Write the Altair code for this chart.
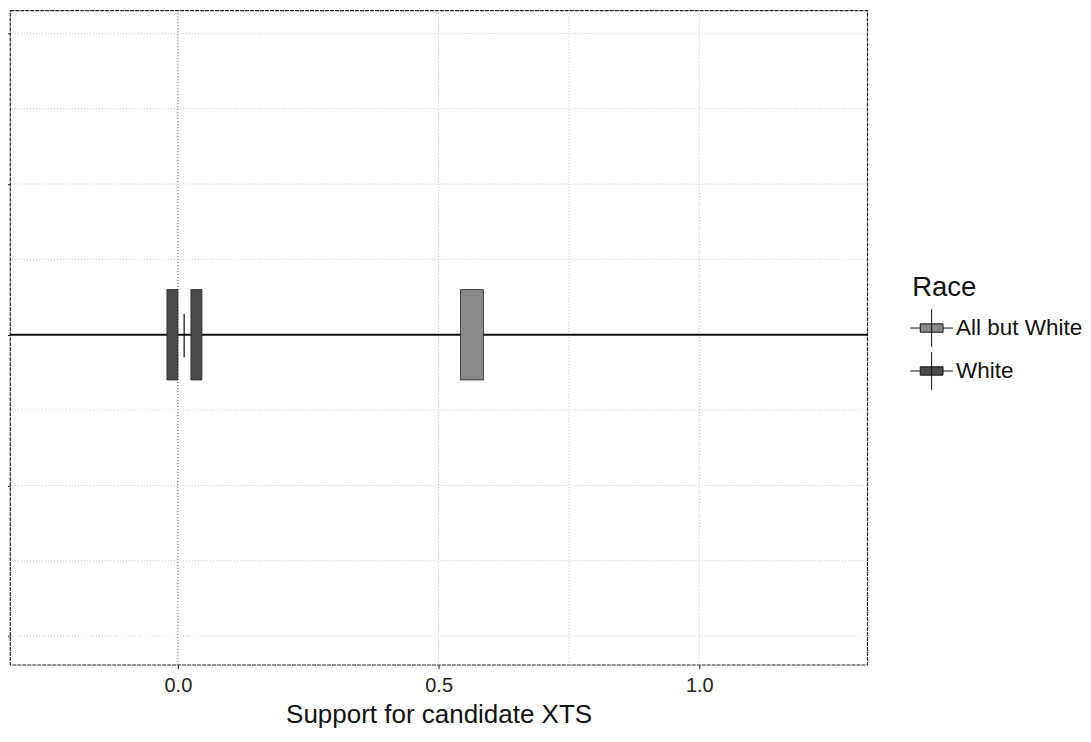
import altair as alt
import pandas as pd

# ---- data ----
bar_race = ["White", "White", "All but White"]
bar_lo = [-0.021, 0.025, 0.542]
bar_hi = [0.0, 0.046, 0.586]
bar_ylo = [-0.3, -0.3, -0.3]
bar_yhi = [0.3, 0.3, 0.3]

err_x = [0.012]
err_ylo = [-0.15]
err_yhi = [0.14]

x_ticks = [0.0, 0.5, 1.0]
y_ticks = [-2, -1, 0, 1, 2]
x_grid = [0.0, 0.5, 0.75, 1.0]
x_grid_col = ["#444444", "#bbbbbb", "#bbbbbb", "#bbbbbb"]
y_grid = [-2, -1.5, -1, -0.5, 0.5, 1, 1.5, 2]

races = ["All but White", "White"]
race_colors = ["#8a8a8a", "#4a4a4a"]

FONT = "Liberation Sans"
XT = "Support for candidate XTS"
xs = alt.Scale(domain=[-0.322, 1.322], nice=False, zero=False)
ys = alt.Scale(domain=[-2.19, 2.153], nice=False, zero=False)
xaxis = alt.Axis(values=x_ticks, format=".1f", grid=False, tickSize=4,
                 tickColor="#222", labelFontSize=20, labelColor="#222",
                 labelPadding=7, titleFontSize=26, titleFontWeight="normal",
                 titleColor="#111", titlePadding=6, domain=False)
yaxis = alt.Axis(values=y_ticks, labels=False, grid=False, tickSize=6,
                 tickColor="#222", domain=False)

bars = pd.DataFrame({"race": bar_race, "lo": bar_lo, "hi": bar_hi,
                     "ylo": bar_ylo, "yhi": bar_yhi})
err = pd.DataFrame({"x": err_x, "ylo": err_ylo, "yhi": err_yhi})
gx = pd.DataFrame({"x": x_grid, "c": x_grid_col})
gy = pd.DataFrame({"y": y_grid})
zero = pd.DataFrame({"y": [0]})

grid_x = alt.Chart(gx).mark_rule(strokeDash=[1, 2], strokeWidth=1).encode(
    x=alt.X("x:Q", scale=xs, axis=xaxis, title=XT),
    color=alt.Color("c:N", scale=None),
)
grid_y = alt.Chart(gy).mark_rule(strokeDash=[1, 2], strokeWidth=1, color="#c4c4c4").encode(
    y=alt.Y("y:Q", scale=ys, axis=yaxis, title=""),
)
zero_line = alt.Chart(zero).mark_rule(color="#111", strokeWidth=2).encode(
    y=alt.Y("y:Q", scale=ys, axis=yaxis, title=""),
)
rects = alt.Chart(bars).mark_rect(stroke="#222", strokeWidth=0.8).encode(
    x=alt.X("lo:Q", scale=xs, axis=xaxis, title=XT),
    x2="hi:Q",
    y=alt.Y("ylo:Q", scale=ys, axis=yaxis, title=""),
    y2="yhi:Q",
    color=alt.Color(
        "race:N",
        scale=alt.Scale(domain=races, range=race_colors),
        legend=alt.Legend(
            title="Race", orient="none", legendX=903, legendY=264,
            titleFontSize=27.5, titleFontWeight="normal", titleColor="#111",
            titlePadding=7, labelFontSize=22.5, labelColor="#111",
            labelOffset=5, rowPadding=0,
            symbolType="M-1.13,0H-0.6M0.6,0H1.13M-0.6,-0.22H0.6V0.22H-0.6ZM0,-1V1",
            symbolSize=1444, symbolStrokeColor="#111", symbolStrokeWidth=1,
        ),
    ),
)
errbar = alt.Chart(err).mark_rule(color="#111", strokeWidth=1.2).encode(
    x=alt.X("x:Q", scale=xs, axis=xaxis, title=XT),
    y=alt.Y("ylo:Q", scale=ys, axis=yaxis, title=""),
    y2="yhi:Q",
)

chart = alt.layer(grid_x, grid_y, zero_line, rects, errbar).properties(
    width=858, height=655,
    autosize=alt.AutoSizeParams(type="none"),
    padding={"left": 2, "top": 2, "right": 216, "bottom": 66},
).configure(font=FONT).configure_view(
    stroke="#222", strokeWidth=1.2, strokeDash=[4, 1]
)

chart.save("out.html", embed_options={"renderer": "svg", "actions": False})
